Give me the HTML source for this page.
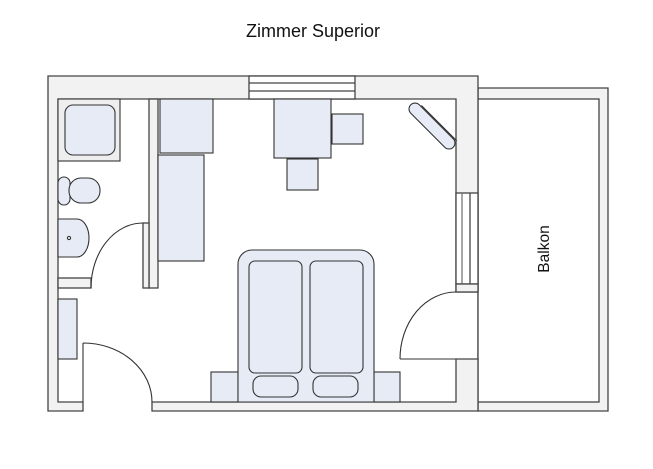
<!DOCTYPE html>
<html><head><meta charset="utf-8"><style>
html,body{margin:0;padding:0;background:#fff;}
svg{display:block;}
</style></head><body>
<svg width="653" height="469" viewBox="0 0 653 469" xmlns="http://www.w3.org/2000/svg">
<rect width="653" height="469" fill="#fff"/>
<text x="313" y="37" text-anchor="middle" font-family="Liberation Sans, sans-serif" font-size="18" fill="#111">Zimmer Superior</text>
<g stroke="#444" stroke-width="1.3">
<path d="M478,88 H608 V411 H478 Z" fill="#f2f2f2"/>
<rect x="478" y="99" width="121" height="303" fill="#fff"/>
<path d="M48,76 H478 V292 H456 V99 H58 V402 H83 V411 H48 Z" fill="#f2f2f2"/>
<path d="M152,402 H456 V359 H478 V411 H152 Z" fill="#f2f2f2"/>
<rect x="249" y="76" width="106" height="23" fill="#fff"/>
<line x1="249" y1="83" x2="355" y2="83"/>
<line x1="249" y1="91" x2="355" y2="91"/>
<rect x="456" y="193" width="22" height="91" fill="#fff"/>
<line x1="462" y1="193" x2="462" y2="284" stroke="#777"/>
<line x1="470" y1="193" x2="470" y2="284"/>
<rect x="456" y="284" width="22" height="8" fill="#f2f2f2"/>
<rect x="149" y="99" width="9" height="189" fill="#f2f2f2"/>
<rect x="143" y="223" width="6" height="65" fill="#f2f2f2"/>
<rect x="58" y="278" width="33" height="10" fill="#f2f2f2"/>
</g>
<g fill="none" stroke="#333" stroke-width="1.1">
<path d="M83,343 V402 M83,343 A69,59 0 0 1 152,402"/>
<path d="M143,223 A52,65 0 0 0 91,288"/>
<path d="M400,359 H456 M400,359 A56,67 0 0 1 456,292"/>
</g>
<g stroke="#333" stroke-width="1.1" fill="#e6ebf5">
<rect x="58" y="99" width="62" height="62" fill="#eeeeee"/>
<rect x="65" y="105" width="50" height="50" rx="8"/>
<rect x="58" y="177" width="12" height="28" rx="6"/>
<rect x="69" y="178" width="31" height="25" rx="12"/>
<path d="M58,219 H77 A12,19 0 0 1 77,257 H58 Z"/>
<circle cx="69" cy="238" r="1.6" fill="#fff"/>
<rect x="58" y="299" width="19" height="60"/>
<rect x="160" y="99" width="53" height="54"/>
<rect x="158" y="155" width="46" height="106"/>
<rect x="274" y="99" width="57" height="59"/>
<rect x="332" y="114" width="31" height="30"/>
<rect x="287" y="159" width="31" height="31"/>
<g transform="translate(432,126) rotate(45)">
<rect x="-30" y="-6" width="60" height="12" rx="6"/>
<line x1="-22" y1="-7" x2="28" y2="-7"/>
</g>
<rect x="211" y="372" width="27" height="30"/>
<rect x="374" y="372" width="26" height="30"/>
<path d="M238,402 V264 A14,14 0 0 1 252,250 H360 A14,14 0 0 1 374,264 V402 Z"/>
<rect x="249" y="261" width="53" height="112" rx="6"/>
<rect x="310" y="261" width="53" height="112" rx="6"/>
<rect x="253" y="376" width="45" height="21" rx="8"/>
<rect x="313" y="376" width="45" height="21" rx="8"/>
</g>
<text transform="translate(549,249) rotate(-90)" text-anchor="middle" font-family="Liberation Sans, sans-serif" font-size="15.5" fill="#111">Balkon</text>
</svg>
</body></html>
